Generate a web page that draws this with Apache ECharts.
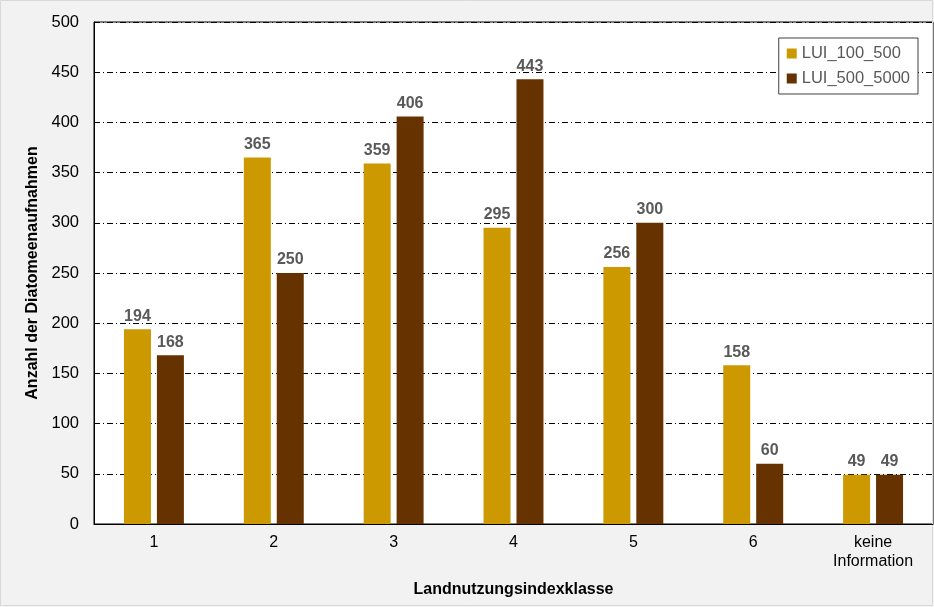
<!DOCTYPE html>
<html><head><meta charset="utf-8">
<script src="https://cdn.jsdelivr.net/npm/echarts@6/dist/echarts.min.js"></script>
<style>html,body{margin:0;padding:0;background:#f2f2f2;}#c{width:934px;height:607px;}</style>
</head><body><div id="c"></div>
<script>
const categories = ['1','2','3','4','5','6','keine\nInformation'];
const lui100 = [194,365,359,295,256,158,49];
const lui500 = [168,250,406,443,300,60,49];
const yTicks = [0,50,100,150,200,250,300,350,400,450,500];

const chart = echarts.init(document.getElementById('c'), null, {renderer:'canvas'});
const lbl = {show:true, position:'top', color:'#595959', fontWeight:'bold', fontSize:16, fontFamily:'Liberation Sans', distance:5};
chart.setOption({
  backgroundColor:'#f2f2f2',
  animation:false,
  graphic:[{type:'rect', shape:{x:0.5,y:0.5,width:932,height:605}, style:{fill:'none', stroke:'#d9d9d9', lineWidth:1}, silent:true}],
  grid:{left:94, right:1, top:22, bottom:83, show:true, backgroundColor:'#fff', borderColor:'#000', borderWidth:1},
  legend:{
    right:16, top:38, orient:'vertical', backgroundColor:'#fff', borderColor:'#404040', borderWidth:1,
    padding:[7,8,7,8], itemWidth:10, itemHeight:10, itemGap:8, icon:'rect',
    textStyle:{color:'#595959', fontSize:16.5, fontFamily:'Liberation Sans'}
  },
  xAxis:{
    type:'category', data:categories,
    name:'Landnutzungsindexklasse', nameLocation:'middle', nameGap:58,
    nameTextStyle:{fontWeight:'bold', fontSize:16, color:'#000', fontFamily:'Liberation Sans'},
    axisLine:{lineStyle:{color:'#000'}}, axisTick:{show:false},
    axisLabel:{color:'#000', fontSize:16, fontFamily:'Liberation Sans', margin:9, lineHeight:19}
  },
  yAxis:{
    type:'value', min:0, max:500, interval:50,
    name:'Anzahl der Diatomeenaufnahmen', nameLocation:'middle', nameGap:52,
    nameTextStyle:{fontWeight:'bold', fontSize:16, color:'#000', fontFamily:'Liberation Sans'},
    axisLine:{show:true, lineStyle:{color:'#000'}}, axisTick:{show:false},
    axisLabel:{color:'#000', fontSize:16.5, fontFamily:'Liberation Sans', margin:15,
      formatter:v=>yTicks.includes(v)?String(v):''},
    splitLine:{show:true, lineStyle:{color:'#000', type:[6,3,1,3], width:1}}
  },
  series:[
    {name:'LUI_100_500', type:'bar', data:lui100, barWidth:27, barGap:'22%', itemStyle:{color:'#cc9900'}, label:lbl},
    {name:'LUI_500_5000', type:'bar', data:lui500, barWidth:27, barGap:'22%', itemStyle:{color:'#663300'}, label:lbl}
  ]
});
</script></body></html>
